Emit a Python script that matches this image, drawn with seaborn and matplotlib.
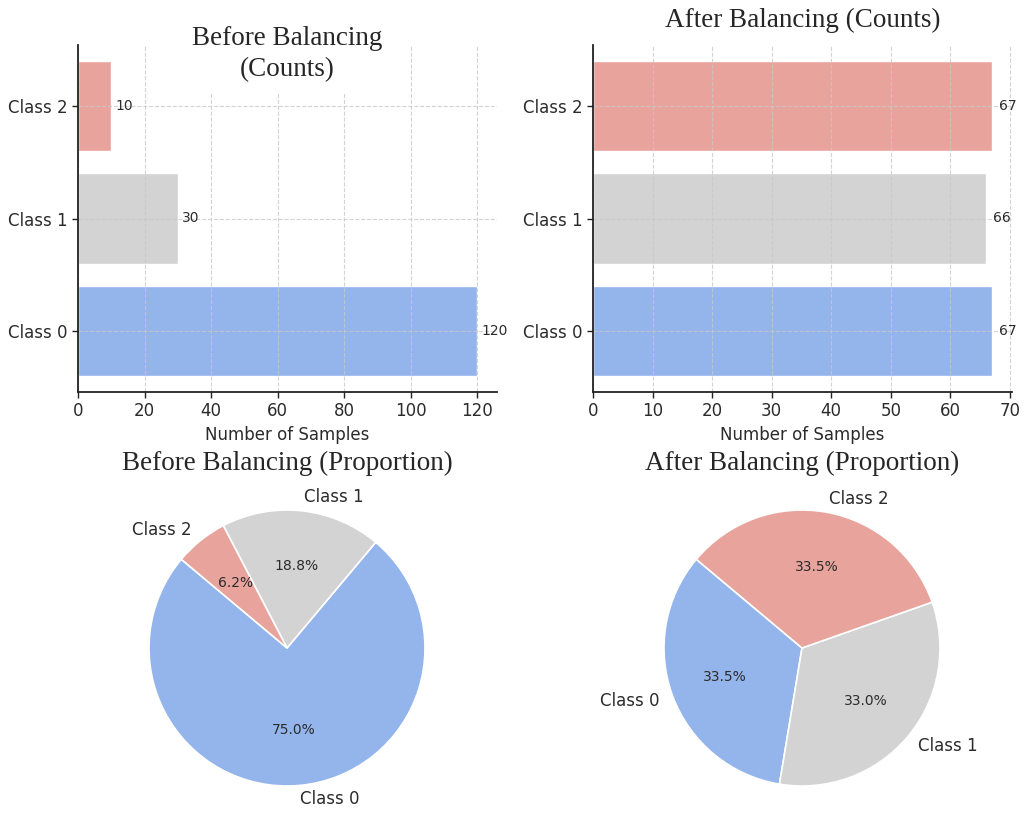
import matplotlib
matplotlib.use("Agg")
import matplotlib.pyplot as plt
import seaborn as sns
import pandas as pd

# ---- data ----
classes = ["Class 0", "Class 1", "Class 2"]
before_counts = [120, 30, 10]
after_counts = [67, 66, 67]
class_colors = ["#94b4ec", "#d3d3d3", "#e8a49c"]

bar_titles = ["Before Balancing\n(Counts)", "After Balancing (Counts)"]
pie_titles = ["Before Balancing (Proportion)", "After Balancing (Proportion)"]
x_label = "Number of Samples"

sns.set_style("white")
plt.rcParams["font.family"] = ["DejaVu Sans"]

W, H = 1031, 817
fig = plt.figure(figsize=(W / 100, H / 100), dpi=100)

TXT = "#2b2b2b"
SERIF = "Liberation Serif"
palette = dict(zip(classes, class_colors))


def px_axes(left, top, right, bottom):
    return fig.add_axes([left / W, 1 - bottom / H, (right - left) / W, (bottom - top) / H])


ax1 = px_axes(78, 45, 497, 392)
ax2 = px_axes(593, 45, 1012, 392)
R = 138 * 1.25
ax3 = px_axes(287 - R, 648 - R, 287 + R, 648 + R)
ax4 = px_axes(802 - R, 648 - R, 802 + R, 648 + R)

for ax, counts, title in [(ax1, before_counts, bar_titles[0]), (ax2, after_counts, bar_titles[1])]:
    df = pd.DataFrame({"cls": classes, "count": counts})
    sns.barplot(data=df, y="cls", x="count", hue="cls", palette=palette,
                order=classes[::-1], hue_order=classes, orient="h",
                saturation=1, width=0.8, legend=False, ax=ax)
    ax.set_ylim(2.54, -0.54)
    ax.set_ylabel("")
    ax.set_xlabel(x_label, fontsize=12, color=TXT)
    ax.grid(True, linestyle="--", color="#c8c8c8", linewidth=0.8, alpha=0.8)
    ax.set_axisbelow(False)
    for s in ["top", "right"]:
        ax.spines[s].set_visible(False)
    for s in ["left", "bottom"]:
        ax.spines[s].set_color("#222222")
        ax.spines[s].set_linewidth(1.3)
        ax.spines[s].set_zorder(4)
    ax.tick_params(axis="both", labelsize=12, labelcolor=TXT, length=4, width=1, color="#222222",
                   left=True, bottom=True)
    for cont in ax.containers:
        for bar in cont:
            w = bar.get_width()
            ax.text(w + 1.2, bar.get_y() + bar.get_height() / 2, f"{int(w)}",
                    va="center", ha="left", fontsize=10, color=TXT)

ax1.set_title(bar_titles[0], fontsize=19.5, family=SERIF, y=1 - 31 / 347, pad=0,
              linespacing=1.3,
              bbox=dict(boxstyle="square,pad=0.4", facecolor="white", edgecolor="none"))
ax2.set_title(bar_titles[1], fontsize=19.5, family=SERIF, pad=13)

for ax, counts, title in [(ax3, before_counts, pie_titles[0]), (ax4, after_counts, pie_titles[1])]:
    ax.pie(counts, labels=classes, colors=class_colors, autopct="%1.1f%%", startangle=140,
           wedgeprops=dict(edgecolor="white", linewidth=1.2),
           textprops=dict(color=TXT, fontsize=12))
    for t in ax.texts:
        if t.get_text().endswith("%"):
            t.set_fontsize(10)
    ax.set_title(title, fontsize=19.5, family=SERIF, pad=3)

fig.savefig("out.png", dpi=100, facecolor="white")
